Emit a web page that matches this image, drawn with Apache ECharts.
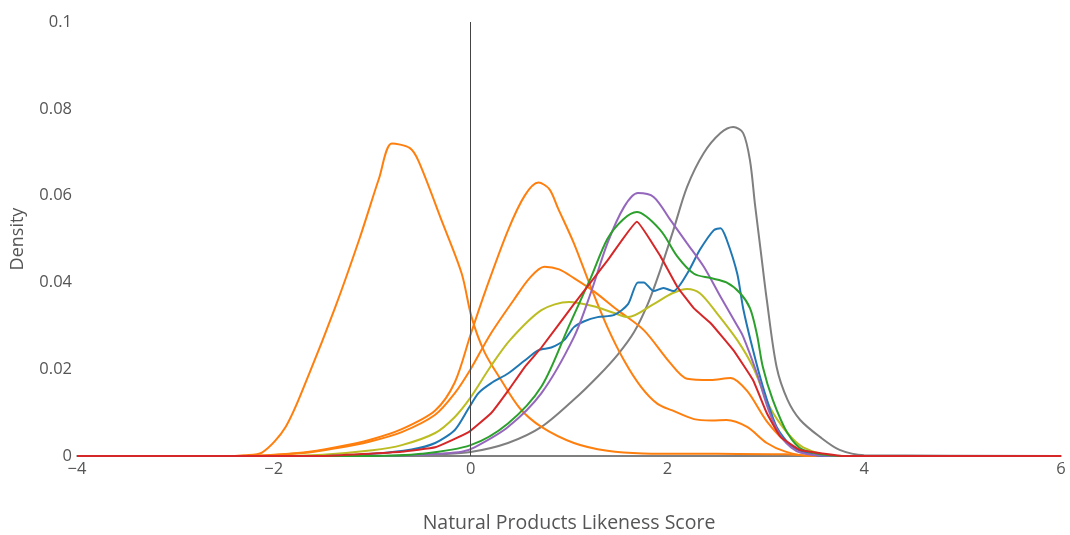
<!DOCTYPE html>
<html>
<head>
<meta charset="utf-8">
<script src="https://cdn.jsdelivr.net/npm/echarts@6/dist/echarts.min.js"></script>
<style>
html,body{margin:0;padding:0;background:#fff;}
#chart{width:1070px;height:535px;}
</style>
</head>
<body>
<div id="chart"></div>
<script>
// Axis ticks
const xTicks = [-4, -2, 0, 2, 4, 6];
const yTicks = [0, 0.02, 0.04, 0.06, 0.08, 0.1];

// Orange A (left peak)
const xA = [-4, -2.5, -2.3, -2.12, -1.88, -1.64, -1.38, -1.13, -0.93, -0.8, -0.62, -0.53, -0.29, -0.09, 0.01, 0.14, 0.31, 0.5, 0.72, 1.05, 1.39, 1.75, 2.5, 3.2, 3.5, 6];
const yA = [0, 0, 0.0002, 0.0008, 0.0067, 0.019, 0.034, 0.050, 0.064, 0.072, 0.071, 0.068, 0.054, 0.042, 0.032, 0.024, 0.0175, 0.011, 0.0067, 0.003, 0.0012, 0.0006, 0.0005, 0.0004, 0, 0];

// Orange B (peak 0.063)
const xB = [-4, -2.3, -1.7, -1.37, -1.03, -0.7, -0.36, -0.16, 0, 0.15, 0.38, 0.55, 0.69, 0.8, 0.89, 1.05, 1.22, 1.39, 1.56, 1.73, 1.9, 2.05, 2.27, 2.45, 2.6, 2.81, 3.01, 3.2, 3.45, 6];
const yB = [0, 0, 0.0008, 0.002, 0.0037, 0.0062, 0.0105, 0.017, 0.028, 0.038, 0.052, 0.060, 0.063, 0.0615, 0.057, 0.049, 0.039, 0.0297, 0.022, 0.016, 0.012, 0.0105, 0.0085, 0.0082, 0.0083, 0.0067, 0.003, 0.001, 0, 0];

// Orange C (peak 0.044)
const xC = [-4, -2.3, -1.7, -1.37, -1.03, -0.7, -0.36, -0.16, 0, 0.2, 0.44, 0.6, 0.75, 0.9, 1.05, 1.25, 1.5, 1.76, 2.03, 2.2, 2.44, 2.64, 2.81, 3.01, 3.22, 3.42, 3.7, 6];
const yC = [0, 0, 0.0007, 0.0018, 0.0033, 0.0055, 0.0095, 0.0145, 0.02, 0.028, 0.036, 0.041, 0.0436, 0.043, 0.041, 0.038, 0.0335, 0.029, 0.0214, 0.0178, 0.0175, 0.018, 0.015, 0.008, 0.003, 0.0007, 0, 0];

// Olive
const xOlive = [-4, -2, -1.5, -1, -0.7, -0.36, -0.16, 0, 0.2, 0.4, 0.72, 1.0, 1.25, 1.45, 1.6, 1.86, 2.05, 2.2, 2.33, 2.5, 2.71, 2.87, 3.04, 3.22, 3.38, 3.7, 6];
const yOlive = [0, 0, 0.0003, 0.0013, 0.0025, 0.0053, 0.009, 0.0135, 0.0205, 0.0267, 0.0336, 0.0355, 0.0345, 0.033, 0.032, 0.035, 0.0375, 0.0385, 0.0375, 0.033, 0.0267, 0.0205, 0.0113, 0.0053, 0.002, 0, 0];

// Blue
const xBlue = [-4, -1.5, -1, -0.6, -0.36, -0.16, -0.02, 0.08, 0.21, 0.38, 0.55, 0.69, 0.82, 0.95, 1.05, 1.15, 1.29, 1.46, 1.6, 1.7, 1.76, 1.86, 1.96, 2.06, 2.2, 2.33, 2.47, 2.54, 2.6, 2.71, 2.77, 2.87, 2.97, 3.11, 3.28, 3.6, 6];
const yBlue = [0, 0, 0.0005, 0.0015, 0.003, 0.006, 0.011, 0.0145, 0.0168, 0.019, 0.022, 0.0244, 0.025, 0.0267, 0.0297, 0.031, 0.032, 0.0325, 0.035, 0.040, 0.040, 0.038, 0.0387, 0.038, 0.042, 0.0475, 0.052, 0.0525, 0.050, 0.042, 0.034, 0.0244, 0.016, 0.0067, 0.002, 0, 0];

// Red
const xRed = [-4, -1.5, -0.7, -0.36, -0.02, 0.21, 0.38, 0.55, 0.72, 1.05, 1.39, 1.69, 1.93, 2.1, 2.27, 2.44, 2.67, 2.87, 3.01, 3.15, 3.35, 3.8, 6];
const yRed = [0, 0, 0.001, 0.002, 0.0055, 0.0099, 0.015, 0.0205, 0.025, 0.035, 0.045, 0.054, 0.046, 0.039, 0.034, 0.0306, 0.0244, 0.0175, 0.0099, 0.0044, 0.0014, 0, 0];

// Purple
const xPurple = [-4, -1, -0.5, -0.09, 0.04, 0.38, 0.72, 1.05, 1.22, 1.39, 1.56, 1.7, 1.86, 2.03, 2.2, 2.37, 2.54, 2.71, 2.77, 2.91, 3.04, 3.18, 3.35, 3.7, 6];
const yPurple = [0, 0, 0.0003, 0.001, 0.002, 0.0067, 0.0145, 0.0274, 0.0375, 0.049, 0.0574, 0.0606, 0.0597, 0.0544, 0.049, 0.0436, 0.0367, 0.030, 0.0275, 0.019, 0.0099, 0.0037, 0.0008, 0, 0];

// Green
const xGreen = [-4, -1, -0.5, 0, 0.38, 0.72, 1.0, 1.22, 1.39, 1.55, 1.69, 1.93, 2.1, 2.27, 2.44, 2.6, 2.74, 2.84, 2.91, 2.97, 3.07, 3.22, 3.38, 3.8, 6];
const yGreen = [0, 0, 0.0005, 0.0025, 0.0075, 0.016, 0.030, 0.041, 0.050, 0.0545, 0.0562, 0.052, 0.046, 0.042, 0.041, 0.040, 0.0375, 0.034, 0.028, 0.0205, 0.013, 0.0053, 0.0014, 0, 0];

// Gray
const xGray = [-4, -0.8, -0.3, 0, 0.38, 0.72, 1.05, 1.3, 1.5, 1.66, 1.8, 1.93, 2.06, 2.2, 2.37, 2.54, 2.67, 2.77, 2.84, 2.89, 2.95, 3.01, 3.11, 3.22, 3.35, 3.55, 3.75, 4.0, 6];
const yGray = [0, 0, 0.0004, 0.0009, 0.003, 0.0067, 0.013, 0.0185, 0.0235, 0.0285, 0.035, 0.043, 0.052, 0.062, 0.0698, 0.0744, 0.0758, 0.0744, 0.068, 0.058, 0.047, 0.036, 0.0205, 0.013, 0.0083, 0.0044, 0.0014, 0.0002, 0];

const curves = [
  {x: xGray, y: yGray, color: '#7f7f7f', smooth: 0.3},
  {x: xA, y: yA, color: '#ff7f0e', smooth: 0.3},
  {x: xB, y: yB, color: '#ff7f0e', smooth: 0.3},
  {x: xC, y: yC, color: '#ff7f0e', smooth: 0.3},
  {x: xOlive, y: yOlive, color: '#bcbd22', smooth: 0.3},
  {x: xBlue, y: yBlue, color: '#1f77b4', smooth: 0.25},
  {x: xPurple, y: yPurple, color: '#9467bd', smooth: 0.3},
  {x: xGreen, y: yGreen, color: '#2ca02c', smooth: 0.3},
  {x: xRed, y: yRed, color: '#d62728', smooth: 0.1}
];

const fontFamily = '"Open Sans", "DejaVu Sans", sans-serif';

const series = curves.map((c) => ({
  type: 'line',
  data: c.x.map((v, i) => [v, c.y[i]]),
  showSymbol: false,
  smooth: c.smooth,
  lineStyle: {color: c.color, width: 2},
  itemStyle: {color: c.color},
  silent: true,
  z: 3
}));

series.push({
  type: 'line',
  data: [],
  silent: true,
  markLine: {
    silent: true,
    symbol: 'none',
    label: {show: false},
    lineStyle: {color: '#444', width: 1, type: 'solid'},
    data: [{xAxis: 0}]
  },
  z: 2
});

const chart = echarts.init(document.getElementById('chart'), null, {renderer: 'canvas'});
chart.setOption({
  animation: false,
  backgroundColor: '#fff',
  grid: {left: 77, right: 9, top: 22, bottom: 79, containLabel: false, outerBoundsMode: 'none'},
  xAxis: {
    type: 'value',
    min: xTicks[0],
    max: xTicks[xTicks.length - 1],
    interval: 2,
    name: 'Natural Products Likeness Score',
    nameLocation: 'middle',
    nameGap: 57,
    nameTextStyle: {color: '#555', fontSize: 19.5, fontFamily: fontFamily},
    axisLine: {show: true, onZero: false, lineStyle: {color: '#555', width: 1.5}},
    axisTick: {show: false},
    splitLine: {show: false},
    axisLabel: {
      color: '#555', fontSize: 16.5, fontFamily: fontFamily, margin: 5,
      formatter: v => (v < 0 ? '\u2212' + Math.abs(v) : String(v))
    }
  },
  yAxis: {
    type: 'value',
    min: yTicks[0],
    max: yTicks[yTicks.length - 1],
    interval: 0.02,
    name: 'Density',
    nameLocation: 'middle',
    nameGap: 50,
    nameTextStyle: {color: '#555', fontSize: 18, fontFamily: fontFamily},
    axisLine: {show: false},
    axisTick: {show: false},
    splitLine: {show: false},
    axisLabel: {
      color: '#555', fontSize: 16.5, fontFamily: fontFamily, margin: 5,
      formatter: v => String(+v.toFixed(2))
    }
  },
  series: series
});
</script>
</body>
</html>
